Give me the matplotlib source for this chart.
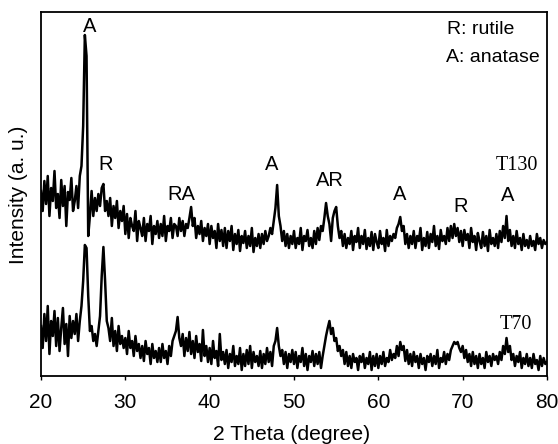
import numpy as np
import matplotlib
matplotlib.use("Agg")
import matplotlib.pyplot as plt

# 2-theta grid (degrees), step 0.2
two_theta = np.round(np.arange(20.0, 80.0001, 0.2), 1)

# T130 intensity (arbitrary units)
t130 = [
    185, 165, 195, 172, 200, 160, 188, 175, 205, 168,   # 20.0-21.8
    182, 158, 196, 170, 190, 150, 184, 176, 198, 165,   # 22.0-23.8
    175, 190, 168, 200, 210, 250, 341, 320, 140, 160,   # 24.0-25.8
    185, 160, 178, 165, 182, 170, 188, 192, 165, 175,   # 26.0-27.8
    160, 178, 150, 170, 158, 175, 148, 165, 155, 170,   # 28.0-29.8
    142, 162, 138, 158, 150, 145, 165, 135, 155, 148,   # 30.0-31.8
    140, 158, 135, 152, 145, 160, 132, 150, 142, 155,   # 32.0-33.8
    138, 152, 140, 160, 135, 150, 145, 158, 138, 152,   # 34.0-35.8
    150, 140, 158, 145, 155, 140, 152, 148, 158, 169,   # 36.0-37.8
    150, 158, 138, 150, 142, 155, 135, 148, 140, 152,   # 38.0-39.8
    132, 150, 138, 145, 128, 152, 135, 146, 130, 148,   # 40.0-41.8
    128, 145, 135, 150, 126, 142, 132, 146, 125, 140,   # 42.0-43.8
    133, 145, 128, 140, 130, 148, 124, 138, 130, 142,   # 44.0-45.8
    128, 142, 132, 145, 135, 140, 148, 142, 155, 168,   # 46.0-47.8
    191, 160, 150, 135, 145, 130, 142, 128, 140, 132,   # 48.0-49.8
    145, 128, 138, 132, 148, 126, 140, 135, 146, 130,   # 50.0-51.8
    138, 128, 145, 132, 148, 136, 150, 145, 158, 173,   # 52.0-53.8
    160, 152, 135, 158, 165, 169, 150, 138, 145, 130,   # 54.0-55.8
    142, 128, 138, 132, 145, 126, 140, 134, 148, 128,   # 56.0-57.8
    140, 132, 146, 127, 138, 130, 144, 126, 142, 134,   # 58.0-59.8
    128, 145, 132, 138, 125, 146, 130, 140, 135, 142,   # 60.0-61.8
    138, 148, 152, 159, 145, 150, 132, 142, 128, 140,   # 62.0-63.8
    132, 145, 128, 140, 135, 148, 126, 138, 130, 144,   # 64.0-65.8
    128, 142, 134, 150, 130, 140, 127, 146, 135, 140,   # 66.0-67.8
    132, 148, 135, 150, 138, 152, 140, 148, 134, 145,   # 68.0-69.8
    130, 146, 136, 142, 128, 148, 134, 140, 126, 143,   # 70.0-71.8
    135, 128, 144, 130, 140, 125, 146, 132, 138, 130,   # 72.0-73.8
    142, 128, 145, 134, 150, 138, 160, 135, 146, 130,   # 74.0-75.8
    140, 128, 145, 132, 138, 126, 142, 130, 136, 128,   # 76.0-77.8
    140, 130, 135, 126, 142, 132, 138, 128, 136, 132,   # 78.0-79.8
    134,                                                # 80.0
]

# T70 intensity (arbitrary units)
t70 = [
    50, 28, 62, 35, 70, 22, 55, 40, 65, 30,     # 20.0-21.8
    58, 25, 48, 68, 32, 52, 20, 60, 38, 55,     # 22.0-23.8
    42, 62, 35, 55, 70, 95, 131, 128, 80, 45,   # 24.0-25.8
    50, 35, 42, 30, 45, 60, 100, 129, 95, 55,   # 26.0-27.8
    48, 35, 58, 30, 45, 25, 50, 32, 40, 28,     # 28.0-29.8
    38, 22, 45, 28, 35, 20, 40, 25, 32, 18,     # 30.0-31.8
    30, 15, 35, 22, 28, 12, 32, 18, 25, 14,     # 32.0-33.8
    28, 14, 32, 18, 25, 12, 30, 20, 35, 40,     # 34.0-35.8
    45, 59, 38, 30, 42, 20, 38, 25, 44, 22,     # 36.0-37.8
    35, 18, 40, 24, 32, 15, 46, 20, 30, 14,     # 38.0-39.8
    28, 12, 35, 18, 25, 10, 42, 16, 24, 12,     # 40.0-41.8
    26, 8, 22, 14, 30, 10, 20, 12, 28, 6,       # 42.0-43.8
    22, 10, 26, 12, 30, 8, 24, 14, 20, 10,      # 44.0-45.8
    25, 8, 22, 12, 28, 14, 24, 10, 30, 35,      # 46.0-47.8
    48, 30, 20, 26, 12, 24, 8, 22, 14, 26,      # 48.0-49.8
    12, 24, 8, 20, 14, 28, 10, 22, 6, 20,       # 50.0-51.8
    14, 25, 10, 22, 12, 24, 8, 20, 30, 40,      # 52.0-53.8
    48, 55, 42, 48, 35, 38, 25, 30, 20, 26,     # 54.0-55.8
    12, 24, 10, 20, 8, 22, 14, 18, 6, 20,       # 56.0-57.8
    14, 22, 8, 18, 12, 24, 6, 20, 10, 22,       # 58.0-59.8
    8, 20, 12, 24, 10, 18, 14, 26, 16, 22,      # 60.0-61.8
    18, 30, 20, 34, 26, 30, 15, 26, 12, 22,     # 62.0-63.8
    10, 24, 14, 20, 8, 22, 12, 18, 6, 20,       # 64.0-65.8
    14, 22, 10, 20, 12, 26, 8, 18, 14, 24,      # 66.0-67.8
    12, 22, 16, 26, 30, 34, 32, 34, 28, 24,     # 68.0-69.8
    30, 18, 26, 14, 22, 10, 24, 12, 20, 8,      # 70.0-71.8
    22, 12, 18, 8, 24, 14, 20, 10, 22, 16,      # 72.0-73.8
    20, 12, 24, 16, 30, 22, 38, 24, 30, 16,     # 74.0-75.8
    22, 10, 20, 14, 24, 8, 18, 12, 22, 10,      # 76.0-77.8
    18, 8, 22, 12, 16, 6, 20, 10, 18, 12,       # 78.0-79.8
    14,                                         # 80.0
]

# Phase labels on the T130 pattern: (text, 2theta, height)
phase_labels = ["A", "R", "RA", "A", "AR", "A", "R", "A"]
phase_x = [25.8, 27.7, 36.6, 47.3, 54.2, 62.5, 69.8, 75.3]
phase_y = [350, 211, 182, 212, 196, 182, 170, 181]

sample_names = ["T130", "T70"]
xticks = [20, 30, 40, 50, 60, 70, 80]

sans = ["Liberation Sans", "DejaVu Sans"]
serif = ["Liberation Serif", "DejaVu Serif"]

fig = plt.figure(figsize=(5.58, 4.44), dpi=100)
ax = fig.add_axes([41 / 558, 1 - 376 / 444, 506 / 558, 364 / 444])

ax.plot(two_theta, t130, color="black", lw=1.8)
ax.plot(two_theta, t70, color="black", lw=1.8)

ax.set_xlim(20, 80)
ax.set_ylim(0, 364)
ax.set_yticks([])
ax.set_xticks(xticks)
ax.set_xticklabels([str(t) for t in xticks], fontfamily=sans, fontsize=15)
ax.tick_params(axis="x", direction="out", length=3, width=1, pad=9)
for s in ax.spines.values():
    s.set_linewidth(1.3)

for t, x, y in zip(phase_labels, phase_x, phase_y):
    ax.text(x, y, t, ha="center", va="center", fontsize=14.5, family=sans)

ax.text(76.4, 211, sample_names[0], ha="center", va="center", fontsize=14.5, family=serif)
ax.text(76.3, 52, sample_names[1], ha="center", va="center", fontsize=14.5, family=serif)

ax.text(68.1, 346, "R: rutile", ha="left", va="center", fontsize=14, family=sans)
ax.text(68.0, 319, "A: anatase", ha="left", va="center", fontsize=14, family=sans)

fig.text(292 / 558, 1 - 434 / 444, "2 Theta (degree)", ha="center", va="center",
         fontsize=15.2, family=sans)
fig.text(19 / 558, 1 - 195 / 444, "Intensity (a. u.)", ha="center", va="center",
         rotation=90, fontsize=15, family=sans)

fig.savefig("out.png", dpi=100)
